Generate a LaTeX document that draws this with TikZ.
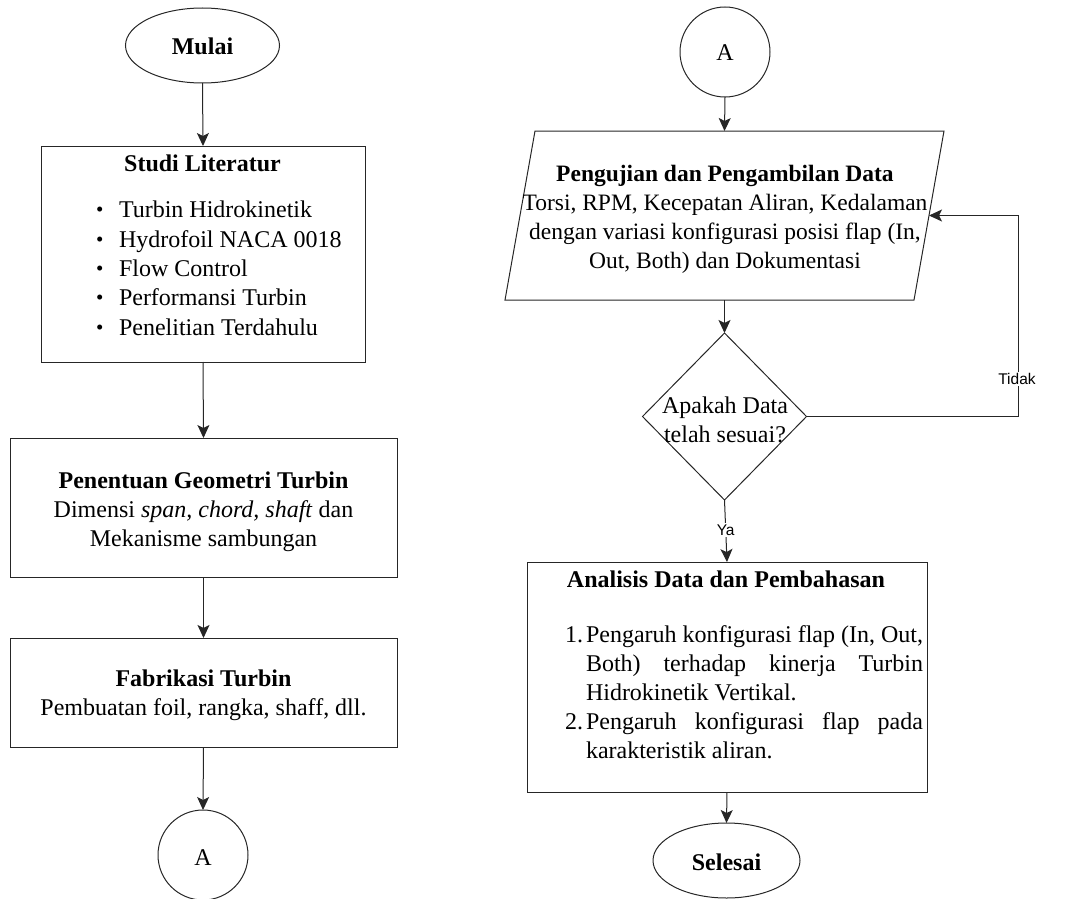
\documentclass[tikz,border=0pt]{standalone}
\usepackage{fontspec}
\setmainfont{Liberation Serif}
\newfontfamily\lsans{Liberation Sans}
\usetikzlibrary{shapes.geometric,arrows.meta,calc}
\newcommand{\blt}{\makebox[23pt][l]{\raisebox{1pt}{\fontsize{21}{21}\selectfont\textbullet}}}
\begin{document}
\begin{tikzpicture}[x=1pt,y=-1pt,
  every node/.style={inner sep=0pt, outer sep=0pt},
  shp/.style={draw=black!85, line width=1pt},
  txt/.style={font=\fontsize{24}{29}\selectfont, align=center, anchor=base},
  tip/.tip={Stealth[length=13pt,width=12pt,inset=3pt]},
  arr/.style={draw=black!85, line width=1pt, -tip},
  lbl/.style={font=\lsans\fontsize{15.5}{18}\selectfont, fill=white, inner sep=1.5pt}]
\useasboundingbox (0,0) rectangle (1071,899);

% ---------- left column ----------
\node[shp, ellipse, minimum width=154pt, minimum height=75pt] (mulai) at (202.5,45.5) {};
\node[txt] (tmulai) at (202.5,55) {\textbf{Mulai}};

\node[shp, rectangle, minimum width=324pt, minimum height=216pt] (studi) at (203,254) {};
\node[txt] (tstudi) at (202.5,171) {\textbf{Studi Literatur}};
\node[font=\fontsize{24}{29.3}\selectfont, align=left, anchor=base west] (tlist) at (96,335)
 {\blt Turbin Hidrokinetik\\
  \blt Hydrofoil NACA 0018\\
  \blt Flow Control\\
  \blt Performansi Turbin\\
  \blt Penelitian Terdahulu};

\node[shp, rectangle, minimum width=387pt, minimum height=139pt] (geo) at (203.5,507.5) {};
\node[txt] (tgeo) at (203.5,546) {\textbf{Penentuan Geometri Turbin}\\Dimensi \textit{span, chord, shaft} dan\\Mekanisme sambungan};

\node[shp, rectangle, minimum width=387pt, minimum height=109pt] (fab) at (203.5,692.5) {};
\node[txt] (tfab) at (203.5,715) {\textbf{Fabrikasi Turbin}\\Pembuatan foil, rangka, shaff, dll.};

\node[shp, circle, minimum size=90pt] (a1) at (203,855) {};
\node[txt] (ta1) at (203,865) {A};

\draw[arr] (mulai.south) -- (studi.north);
\draw[arr] (studi.south) -- (geo.north);
\draw[arr] (geo.south) -- (fab.north);
\draw[arr] (fab.south) -- (a1.north);

% ---------- right column ----------
\node[shp, circle, minimum size=90pt] (a2) at (725,52) {};
\node[txt] (ta2) at (725,61) {A};

% parallelogram (anchor box + outline)
\node[rectangle, minimum width=409pt, minimum height=169pt] (data) at (724.5,215.5) {};
\draw[shp] ($(data.north west)+(15,0)$) -- ($(data.north east)+(15,0)$)
  -- ($(data.south east)+(-15,0)$) -- ($(data.south west)+(-15,0)$) -- cycle;
\node[txt, font=\fontsize{23.5}{29}\selectfont] (tdata) at (725,268) {\textbf{Pengujian dan Pengambilan Data}\\Torsi, RPM, Kecepatan Aliran, Kedalaman\\dengan variasi konfigurasi posisi flap (In,\\Out, Both) dan Dokumentasi};

\node[shp, diamond, minimum width=164pt, minimum height=167pt] (dec) at (724.5,416.5) {};
\node[txt] (tdec) at (725,442) {Apakah Data\\telah sesuai?};

\node[shp, rectangle, minimum width=400pt, minimum height=230pt] (ana) at (727,677) {};
\node[txt] (tana) at (726,587) {\textbf{Analisis Data dan Pembahasan}};
\node[font=\fontsize{24}{29}\selectfont, text width=358pt, align=justify, anchor=base west] (tanalist) at (565,642)
 {\noindent\hangindent=21pt\hangafter=1\makebox[21pt][l]{1.}Pengaruh konfigurasi flap (In, Out,\linebreak Both) terhadap kinerja Turbin\linebreak Hidrokinetik Vertikal.\par
  \noindent\hangindent=21pt\hangafter=1\makebox[21pt][l]{2.}Pengaruh konfigurasi flap pada\linebreak karakteristik aliran.\par};

\node[shp, ellipse, minimum width=147pt, minimum height=75pt] (selesai) at (726.5,860.5) {};
\node[txt] (tsel) at (726.5,870) {\textbf{Selesai}};

\coordinate (fb) at (1018,300);

\draw[arr] (a2.south) -- (data.north);
\draw[arr] (data.south) -- (dec.north);
\draw[arr] (dec.south) -- node[lbl, pos=0.48] (ya) {Ya} (ana.north);
\draw[arr] (dec.east) -| (fb) |- (data.east);
\node[lbl] (tidak) at (1017,379) {Tidak};
\draw[arr] (ana.south) -- (selesai.north);
\end{tikzpicture}
\end{document}
